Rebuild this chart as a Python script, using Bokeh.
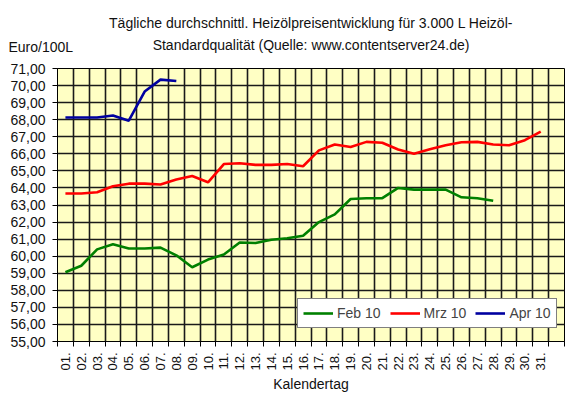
from bokeh.plotting import figure
from bokeh.models import Range1d, FixedTicker, Label, Legend, LegendItem, Title
from bokeh.embed import file_html
from bokeh.resources import INLINE

# Kalendertag labels (32nd slot is an empty category, as in the source chart)
days = ["%02d." % d for d in range(1, 32)]

# Euro/100L
feb10 = [59.06, 59.44, 60.40, 60.70, 60.45, 60.45, 60.50, 60.05, 59.35, 59.80,
         60.10, 60.80, 60.77, 60.96, 61.05, 61.20, 62.00, 62.45, 63.35, 63.40,
         63.40, 64.00, 63.90, 63.90, 63.90, 63.45, 63.40, 63.25]
mrz10 = [63.67, 63.67, 63.75, 64.10, 64.25, 64.25, 64.20, 64.50, 64.70, 64.33,
         65.40, 65.45, 65.35, 65.35, 65.40, 65.27, 66.20, 66.55, 66.40, 66.70,
         66.65, 66.25, 66.00, 66.27, 66.50, 66.68, 66.70, 66.55, 66.50, 66.80,
         67.30]
apr10 = [68.13, 68.13, 68.13, 68.25, 67.94, 69.65, 70.35, 70.27]

y_ticks = list(range(55, 72))

title_1 = "Tägliche durchschnittl. Heizölpreisentwicklung für 3.000 L Heizöl-"
title_2 = "Standardqualität (Quelle: www.contentserver24.de)"

FONT = "Liberation Sans"
TXT = "#111111"
n_slots = len(days) + 1

p = figure(width=577, height=400, output_backend="svg", toolbar_location=None,
           x_range=Range1d(0.5, n_slots + 0.5), y_range=Range1d(y_ticks[0], y_ticks[-1]),
           min_border_left=57, min_border_right=13, min_border_top=68, min_border_bottom=59)

p.background_fill_color = "#FFFFC4"
p.border_fill_color = "white"
p.outline_line_color = "black"

centers = list(range(1, len(days) + 1))
bounds = [c - 0.5 for c in range(1, n_slots + 2)]

# x axis: labels in the middle of each day, tick marks between days
xa = p.xaxis[0]
xa.ticker = FixedTicker(ticks=centers, minor_ticks=bounds)
xa.major_label_overrides = {c: d for c, d in zip(centers, days)}
xa.major_label_orientation = 1.5708
xa.major_tick_line_color = None
xa.minor_tick_line_color = "black"
xa.minor_tick_in = 0
xa.minor_tick_out = 5
xa.major_label_standoff = 5
xa.axis_label = "Kalendertag"
xa.axis_label_standoff = 2

ya = p.yaxis[0]
ya.ticker = FixedTicker(ticks=y_ticks)
ya.major_label_overrides = {v: "%d,00" % v for v in y_ticks}
ya.major_tick_line_color = "black"
ya.major_tick_in = 0
ya.major_tick_out = 5
ya.minor_tick_line_color = None
ya.major_label_standoff = 7

for ax in (xa, ya):
    ax.axis_line_color = "black"
    ax.major_label_text_font = FONT
    ax.major_label_text_font_size = "14px"
    ax.major_label_text_color = TXT
    ax.axis_label_text_font = FONT
    ax.axis_label_text_font_size = "14px"
    ax.axis_label_text_font_style = "normal"
    ax.axis_label_text_color = TXT
xa.major_label_text_font_size = "13px"

p.xgrid.ticker = FixedTicker(ticks=bounds)
for g in (p.xgrid, p.ygrid):
    g.grid_line_color = "#1a1a1a"
    g.grid_line_width = 1.6

r_feb = p.line(centers[:len(feb10)], feb10, line_color="#008000", line_width=2.6)
r_mrz = p.line(centers[:len(mrz10)], mrz10, line_color="#FF0000", line_width=2.6)
r_apr = p.line(centers[:len(apr10)], apr10, line_color="#0000A0", line_width=2.6)

legend = Legend(items=[LegendItem(label="Feb 10", renderers=[r_feb]),
                       LegendItem(label="Mrz 10", renderers=[r_mrz]),
                       LegendItem(label="Apr 10", renderers=[r_apr])],
                location=(240, 13), orientation="horizontal",
                glyph_width=30, glyph_height=18, label_height=18,
                label_standoff=4, spacing=9, padding=5, margin=0,
                label_text_font=FONT, label_text_font_size="14px",
                border_line_color="black", background_fill_color="white",
                background_fill_alpha=1.0)
p.add_layout(legend)

# unit label sits next to the plot, the two heading lines stack above it
p.add_layout(Label(x=-49, y=22, x_units="screen", y_units="screen", text="Euro/100L",
                   text_align="left", text_baseline="middle",
                   text_font=FONT, text_font_size="14px", text_color=TXT), "above")
p.add_layout(Title(text=title_2, align="center", standoff=0, text_font=FONT,
                   text_font_size="14px", text_font_style="normal", text_color=TXT), "above")
p.add_layout(Title(text=title_1, align="center", standoff=8, text_font=FONT,
                   text_font_size="14px", text_font_style="normal", text_color=TXT), "above")

open("out.html", "w").write(file_html(p, INLINE))
